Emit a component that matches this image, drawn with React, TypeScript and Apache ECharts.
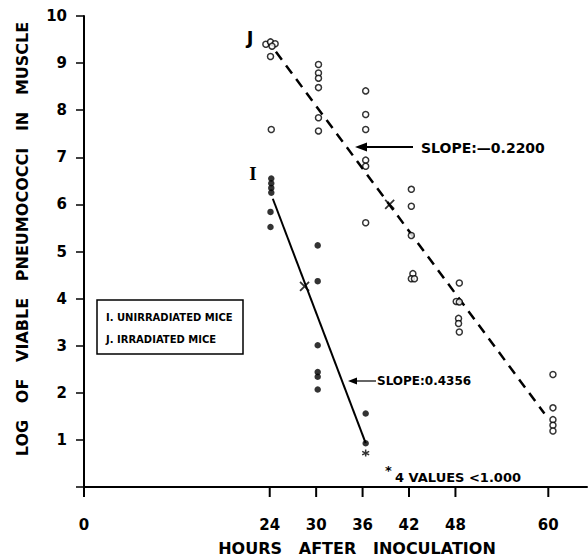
import React, { useEffect, useRef } from "react";
import * as echarts from "echarts";

// Irradiated mice (J), open circles: [hours, log count]
const jPoints: number[][] = [
  [23.5, 9.4], [24.1, 9.45], [24.7, 9.41], [24.3, 9.36], [24.1, 9.14], [24.2, 7.59],
  [30.3, 8.97], [30.3, 8.79], [30.3, 8.68], [30.3, 8.48], [30.3, 7.84], [30.3, 7.56],
  [36.4, 8.41], [36.4, 7.91], [36.4, 7.59], [36.4, 6.94], [36.4, 6.81], [36.4, 5.61],
  [42.3, 6.32], [42.3, 5.96], [42.3, 5.34], [42.5, 4.53], [42.3, 4.42], [42.7, 4.42],
  [48.5, 4.33], [48.1, 3.94], [48.5, 3.93], [48.4, 3.58], [48.4, 3.47], [48.5, 3.29],
  [60.6, 2.39], [60.6, 1.68], [60.6, 1.43], [60.6, 1.31], [60.6, 1.19],
];
// Unirradiated mice (I), filled dots
const iPoints: number[][] = [
  [24.2, 6.55], [24.2, 6.45], [24.2, 6.35], [24.2, 6.25], [24.1, 5.84], [24.1, 5.52],
  [30.2, 5.13], [30.2, 4.37], [30.2, 3.01], [30.2, 2.44], [30.2, 2.34], [30.2, 2.07],
  [36.4, 1.56], [36.4, 0.93],
];
const belowPoints: number[][] = [[36.4, 0.72]];
const meanPoints: number[][] = [[39.5, 6.0], [28.5, 4.26]];
const lineJ: number[][] = [[24.8, 9.24], [59.5, 1.56]];
const lineI: number[][] = [[24.4, 6.12], [36.4, 0.93]];
const xTicks = [0, 24, 30, 36, 42, 48, 60];

const FONT = "DejaVu Sans";

export default function App() {
  const ref = useRef<HTMLDivElement>(null);
  useEffect(() => {
    if (!ref.current) return;
    const chart = echarts.init(ref.current, undefined, { renderer: "svg" });
    const txt = (text: string, x: number, y: number, size: number, extra: any = {}) => ({
      type: "text",
      x,
      y,
      style: {
        text,
        fill: "#000",
        font: `bold ${size}px "${FONT}"`,
        textVerticalAlign: "middle",
        ...extra,
      },
    });
    const graphics: any[] = [
      {
        type: "text",
        x: 22,
        y: 239,
        rotation: Math.PI / 2,
        style: {
          text: "LOG   OF   VIABLE   PNEUMOCOCCI   IN   MUSCLE",
          fill: "#000",
          font: `bold 16px "${FONT}"`,
          textAlign: "center",
          textVerticalAlign: "middle",
        },
      },
      txt("HOURS   AFTER   INOCULATION", 357, 548, 16, { textAlign: "center" }),
      txt("J", 250, 37, 18, { textAlign: "center" }),
      {
        type: "text",
        x: 253,
        y: 173,
        style: {
          text: "I",
          fill: "#000",
          font: `bold 19px "Liberation Serif"`,
          textAlign: "center",
          textVerticalAlign: "middle",
        },
      },
      {
        type: "rect",
        shape: { x: 97, y: 300, width: 146, height: 54 },
        style: { fill: "none", stroke: "#000", lineWidth: 1.5 },
      },
      txt("I. UNIRRADIATED MICE", 106, 317, 10),
      txt("J. IRRADIATED MICE", 106, 339, 10),
      {
        type: "line",
        shape: { x1: 413, y1: 147, x2: 362, y2: 147 },
        style: { stroke: "#000", lineWidth: 2 },
      },
      {
        type: "polygon",
        shape: { points: [[355, 147], [367, 142.5], [367, 151.5]] },
        style: { fill: "#000" },
      },
      txt("SLOPE:—0.2200", 421, 148, 14),
      {
        type: "line",
        shape: { x1: 376, y1: 381, x2: 354, y2: 381 },
        style: { stroke: "#000", lineWidth: 1.2 },
      },
      {
        type: "polygon",
        shape: { points: [[348, 381], [357, 377.5], [357, 384.5]] },
        style: { fill: "#000" },
      },
      txt("SLOPE:0.4356", 377, 381, 12),
      txt("*", 385, 470, 13),
      txt("4 VALUES <1.000", 395, 477, 13),
    ];
    chart.setOption({
      animation: false,
      backgroundColor: "#fff",
      grid: { left: 84, right: 1, top: 16, bottom: 72 },
      xAxis: {
        type: "value",
        min: 0,
        max: 65,
        splitLine: { show: false },
        axisLine: { lineStyle: { color: "#000", width: 2 } },
        axisTick: { show: false },
        axisLabel: {
          customValues: xTicks,
          margin: 30,
          color: "#000",
          fontFamily: FONT,
          fontWeight: "bold",
          fontSize: 15,
        },
      },
      yAxis: {
        type: "value",
        min: 0,
        max: 10,
        interval: 1,
        splitLine: { show: false },
        axisLine: { show: true, lineStyle: { color: "#000", width: 2 } },
        axisTick: { show: true, length: 8, lineStyle: { color: "#000", width: 1.5 } },
        axisLabel: {
          margin: 17,
          color: "#000",
          fontFamily: FONT,
          fontWeight: "bold",
          fontSize: 15,
          formatter: (v: number) => (v === 0 ? "" : String(v)),
        },
      },
      series: [
        {
          type: "line",
          data: lineJ,
          symbol: "none",
          lineStyle: { color: "#000", width: 2.5, type: [10, 7] },
          z: 1,
        },
        {
          type: "line",
          data: lineI,
          symbol: "none",
          lineStyle: { color: "#000", width: 2 },
          z: 1,
        },
        {
          type: "scatter",
          data: jPoints,
          symbol: "circle",
          symbolSize: 6,
          itemStyle: { color: "#fff", borderColor: "#000", borderWidth: 1.5 },
          z: 3,
        },
        {
          type: "scatter",
          data: iPoints,
          symbol: "circle",
          symbolSize: 6.5,
          itemStyle: { color: "#000" },
          z: 3,
        },
        {
          type: "scatter",
          data: meanPoints,
          symbol: "path://M0,0L10,10M10,0L0,10",
          symbolSize: 9,
          itemStyle: { color: "none", borderColor: "#000", borderWidth: 1.8 },
          z: 3,
        },
        {
          type: "scatter",
          data: belowPoints,
          symbol: "path://M5,0L5,10M0,2.5L10,7.5M0,7.5L10,2.5",
          symbolSize: 7,
          itemStyle: { color: "none", borderColor: "#000", borderWidth: 1.5 },
          z: 3,
        },
      ],
    });
    // x-axis tick marks at the labelled hours, placed through the axis scale
    const tickRects = xTicks.map((t) => {
      const p = chart.convertToPixel({ gridIndex: 0 }, [t, 0]) as number[];
      return {
        type: "rect",
        shape: { x: p[0] - 1, y: p[1], width: 2, height: 10 },
        style: { fill: "#000" },
        z: 10,
      };
    });
    chart.setOption({ graphic: [...graphics, ...tickRects] });
    return () => chart.dispose();
  }, []);
  return (
    <div
      ref={ref}
      style={{ position: "fixed", left: 0, top: 0, width: 588, height: 559 }}
    />
  );
}
